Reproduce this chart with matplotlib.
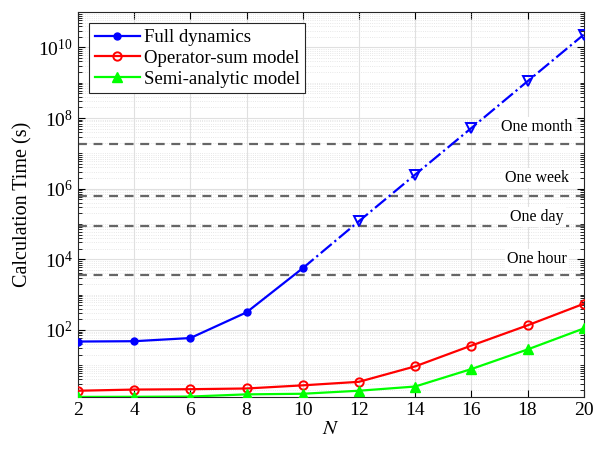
import numpy as np
import matplotlib
matplotlib.use("Agg")
import matplotlib.pyplot as plt
from matplotlib.ticker import LogLocator, NullFormatter

plt.rcParams['font.family'] = ['Liberation Serif', 'DejaVu Serif']
plt.rcParams['mathtext.fontset'] = 'stix'

# calculation times (seconds) versus system size N
N = [2, 4, 6, 8, 10, 12, 14, 16, 18, 20]
t_full = [47, 48, 59, 315, 5600, 1.2e5, 2.5e6, 5.2e7, 1.1e9, 2.3e10]
t_opsum = [1.9, 2.05, 2.1, 2.2, 2.7, 3.4, 9.3, 36, 135, 550]
t_semi = [1.27, 1.28, 1.3, 1.5, 1.56, 1.9, 2.5, 7.8, 28, 110]

# reference durations drawn as dashed lines
ref_names = ['One hour', 'One day', 'One week', 'One month']
ref_secs = [3600, 86400, 604800, 604800 * 30]
ref_text_y = [1.0e4, 1.6e5, 2.0e6, 5.6e7]

fig = plt.figure(figsize=(5.95, 4.49), dpi=100)
ax = fig.add_axes([0.131, 0.116, 0.850, 0.857])

for s in ref_secs:
    ax.axhline(s, color='0.4', linestyle=(0, (4, 3)), lw=1.6, zorder=2)
for name, ty in zip(ref_names, ref_text_y):
    ax.text(18.33, ty, name, ha='center', va='center', fontsize=11.5,
            bbox=dict(facecolor='white', edgecolor='none', pad=1.5), zorder=3)

# full dynamics: computed points solid, extrapolated dash-dot
ax.plot(N[:5], t_full[:5], color='b', lw=1.6, marker='o', ms=5,
        label='Full dynamics', zorder=4)
ax.plot(N[4:], t_full[4:], color='b', lw=1.6, linestyle='-.', zorder=4)
ax.plot(N[5:], t_full[5:], color='b', lw=0, marker='v', ms=7,
        mfc='none', mew=1.4, zorder=4)
ax.plot(N, t_opsum, color='r', lw=1.6, marker='o', ms=6, mfc='none',
        mew=1.4, label='Operator-sum model', zorder=4)
ax.plot(N, t_semi, color=(0, 1, 0), lw=1.6, marker='^', ms=7,
        label='Semi-analytic model', zorder=4)

ax.set_yscale('log')
ax.set_xlim(2, 20)
ax.set_ylim(1.27, 1e11)
ax.set_xticks(N)
ax.set_yticks([1e2, 1e4, 1e6, 1e8, 1e10])
ax.yaxis.set_minor_locator(LogLocator(base=10, subs=np.arange(1, 10), numticks=100))
ax.yaxis.set_minor_formatter(NullFormatter())

ax.grid(True, which='major', color='0.88', lw=0.8, zorder=0)
ax.grid(True, which='minor', axis='y', color='0.88', lw=0.6, linestyle=':', zorder=0)
ax.set_axisbelow(True)
ax.tick_params(which='both', direction='in', top=True, right=True, labelsize=14)
ax.tick_params(which='major', length=5)
ax.tick_params(which='minor', length=3)
for sp in ax.spines.values():
    sp.set_color('0.15')

ax.set_xlabel('$N$', fontsize=15, labelpad=1)
ax.set_ylabel('Calculation Time (s)', fontsize=14.5, labelpad=4)

leg = ax.legend(loc='upper left', fontsize=13.5, frameon=True, fancybox=False,
                edgecolor='0.15', framealpha=1, borderpad=0.3, labelspacing=0.2,
                handlelength=2.4, handletextpad=0.2, borderaxespad=0.6)
leg.get_frame().set_linewidth(0.8)

fig.savefig('out.png', dpi=100)
